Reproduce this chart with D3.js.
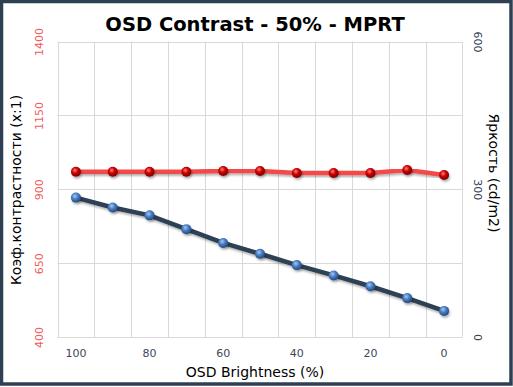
<!DOCTYPE html>
<html><head><meta charset="utf-8">
<script src="https://cdn.jsdelivr.net/npm/d3@7"></script>
<style>html,body{margin:0;padding:0;background:#fff}svg{display:block}</style>
</head><body>
<svg id="c" width="513" height="387"></svg>
<script>
const categories = ["100","90","80","70","60","50","40","30","20","10","0"];
const contrast = [959,959,959,959,962,962,955,955,955,965,948];
const brightness = [283,263,247,219,191,169,146,125,103,79,53];
const leftTicks = [400,650,900,1150,1400];
const rightTicks = [0,300,600];
const xTickLabels = ["100","80","60","40","20","0"];

const svg = d3.select("#c");
const W = 513, H = 387;
const m = {left:57.5, right:462.5, top:41.5, bottom:337};

svg.append("rect").attr("x",1.5).attr("y",1.5).attr("width",W-3.5).attr("height",H-4.5)
  .attr("fill","#fff").attr("stroke","#2e4053").attr("stroke-width",3.5);

const defs = svg.append("defs");
function grad(id, c1, c2, c3){
  const g = defs.append("radialGradient").attr("id",id).attr("cx","40%").attr("cy","35%").attr("r","65%");
  g.append("stop").attr("offset","0%").attr("stop-color",c1);
  g.append("stop").attr("offset","45%").attr("stop-color",c2);
  g.append("stop").attr("offset","100%").attr("stop-color",c3);
}
grad("gr","#ff8080","#d00000","#7a0000");
grad("gb","#a8c8f0","#4a80c8","#23497a");
const f = defs.append("filter").attr("id","sh").attr("x","-20%").attr("y","-20%").attr("width","140%").attr("height","160%");
f.append("feDropShadow").attr("dx",1).attr("dy",2).attr("stdDeviation",1.2).attr("flood-color","#000").attr("flood-opacity",0.3);

const x = d3.scaleBand().domain(categories).range([m.left,m.right]).padding(0);
const yL = d3.scaleLinear().domain([400,1400]).range([m.bottom,m.top]);
const yR = d3.scaleLinear().domain([0,600]).range([m.bottom,m.top]);

// grid
const grid = svg.append("g").attr("stroke","#d9d9d9").attr("stroke-width",1);
leftTicks.forEach(t=>grid.append("line").attr("x1",m.left).attr("x2",m.right)
  .attr("y1",Math.round(yL(t))+0.5).attr("y2",Math.round(yL(t))+0.5));
categories.forEach((c,i)=>{
  const xx = Math.round(x(c))+0.5;
  grid.append("line").attr("x1",xx).attr("x2",xx).attr("y1",m.top).attr("y2",m.bottom);
});
grid.append("line").attr("x1",m.right).attr("x2",m.right).attr("y1",m.top).attr("y2",m.bottom);

const cx = d=>x(d)+x.bandwidth()/2;

// left axis labels
const axL = d3.axisLeft(yL).tickValues(leftTicks).tickSize(0).tickFormat(d3.format("d"));
const gL = svg.append("g").attr("transform",`translate(${m.left},0)`).call(axL);
gL.select(".domain").remove();
gL.selectAll("text").attr("x",null).attr("dy","0.35em").attr("y",0)
  .attr("text-anchor","middle").attr("fill","#f05a5a").attr("font-family","Tahoma, 'DejaVu Sans', sans-serif").attr("font-size",11)
  .attr("transform","translate(-18,0) rotate(-90)");

// right axis labels
const axR = d3.axisRight(yR).tickValues(rightTicks).tickSize(0);
const gR = svg.append("g").attr("transform",`translate(${m.right},0)`).call(axR);
gR.select(".domain").remove();
gR.selectAll("text").attr("x",null).attr("dy","0.35em").attr("y",0)
  .attr("text-anchor","middle").attr("fill","#2e4053").attr("font-family","Tahoma, 'DejaVu Sans', sans-serif").attr("font-size",11)
  .attr("transform","translate(15,0) rotate(90)");

// x axis labels
const axX = d3.axisBottom(x).tickValues(xTickLabels).tickSize(0);
const gX = svg.append("g").attr("transform",`translate(0,${m.bottom})`).call(axX);
gX.select(".domain").remove();
gX.selectAll("text").attr("y",16).attr("dy","0.35em").attr("fill","#404858")
  .attr("font-family","Tahoma, 'DejaVu Sans', sans-serif").attr("font-size",11);

// titles
svg.append("text").attr("x",255).attr("y",31).attr("text-anchor","middle")
  .attr("font-family","'DejaVu Sans', Verdana, sans-serif").attr("font-weight","bold").attr("font-size",19.5)
  .attr("fill","#000").text("OSD Contrast - 50% - MPRT");
svg.append("text").attr("transform","translate(21,190) rotate(-90)").attr("text-anchor","middle")
  .attr("font-family","'DejaVu Sans', Tahoma, sans-serif").attr("font-size",14).attr("fill","#000")
  .text("Коэф.контрастности (x:1)");
svg.append("text").attr("transform","translate(489,173) rotate(90)").attr("text-anchor","middle")
  .attr("font-family","'DejaVu Sans', Tahoma, sans-serif").attr("font-size",14).attr("fill","#000")
  .text("Яркость (cd/m2)");
svg.append("text").attr("x",255).attr("y",377).attr("text-anchor","middle")
  .attr("font-family","'DejaVu Sans', Tahoma, sans-serif").attr("font-size",14).attr("fill","#000")
  .text("OSD Brightness (%)");

// lines
const lineB = d3.line().x((d,i)=>cx(categories[i])).y(d=>yR(d));
const lineC = d3.line().x((d,i)=>cx(categories[i])).y(d=>yL(d));
svg.append("path").datum(brightness).attr("d",lineB).attr("fill","none")
  .attr("stroke","#2e4053").attr("stroke-width",4.5).attr("filter","url(#sh)");
svg.append("path").datum(contrast).attr("d",lineC).attr("fill","none")
  .attr("stroke","#f34a4a").attr("stroke-width",4.5).attr("filter","url(#sh)");

svg.append("g").selectAll("circle").data(brightness).join("circle")
  .attr("cx",(d,i)=>cx(categories[i])).attr("cy",d=>yR(d)).attr("r",5)
  .attr("fill","url(#gb)").attr("filter","url(#sh)");
svg.append("g").selectAll("circle").data(contrast).join("circle")
  .attr("cx",(d,i)=>cx(categories[i])).attr("cy",d=>yL(d)).attr("r",5)
  .attr("fill","url(#gr)").attr("filter","url(#sh)");
</script>
</body></html>
